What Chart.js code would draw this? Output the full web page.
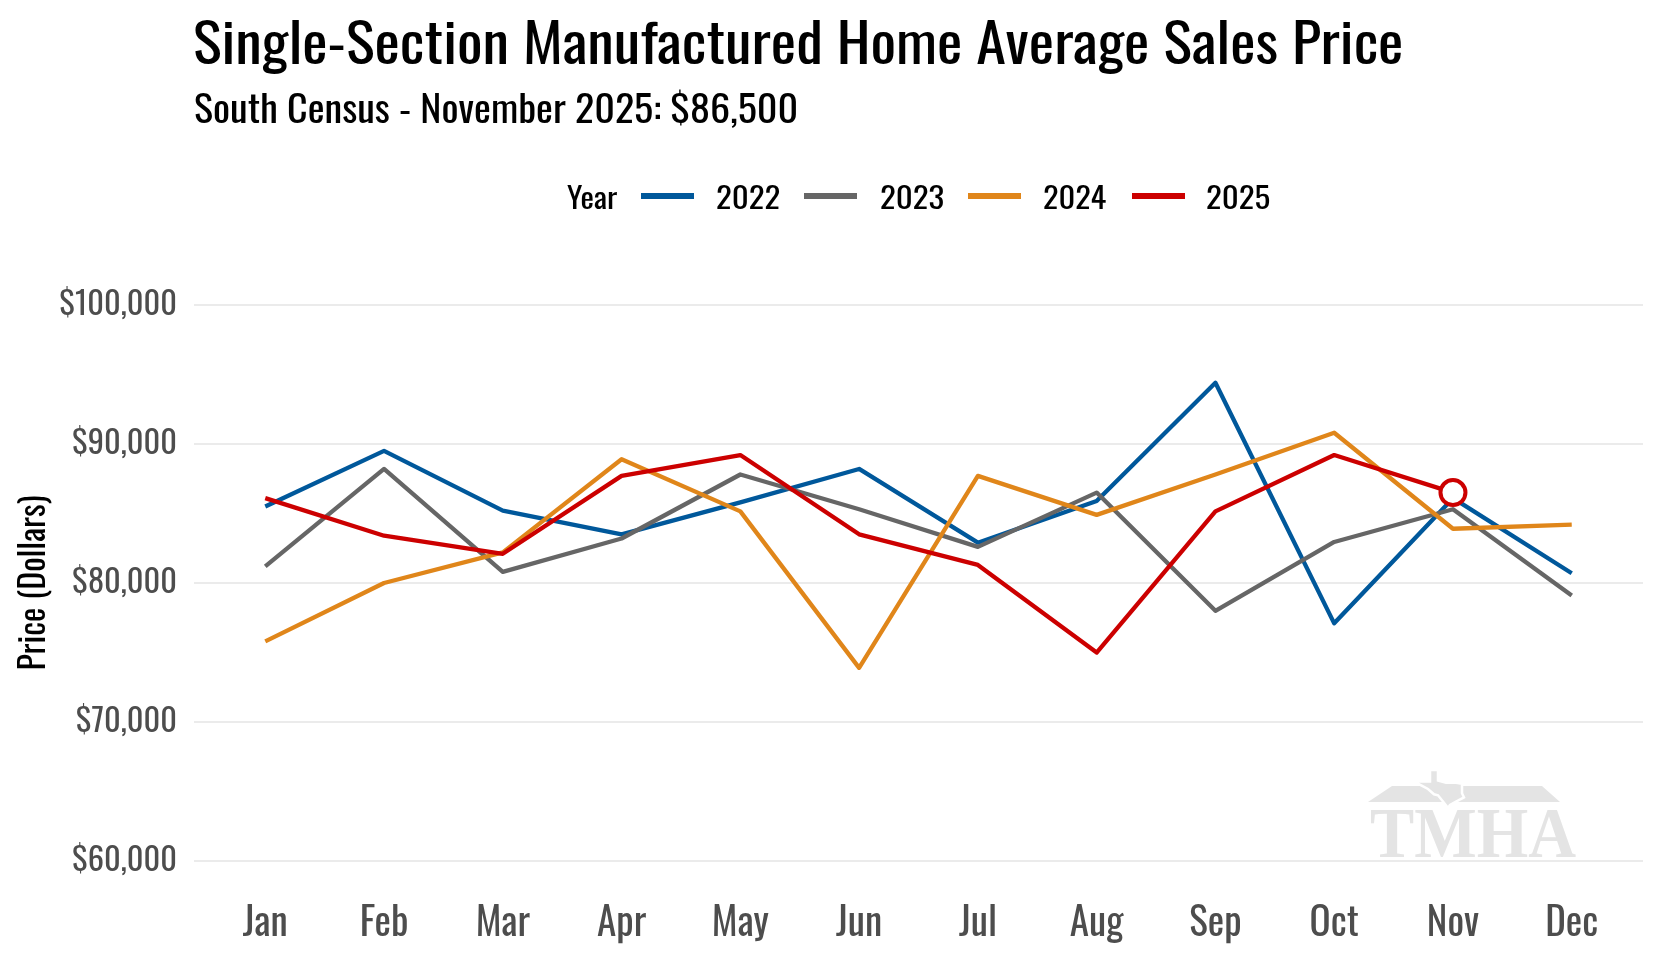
<!DOCTYPE html>
<html><head><meta charset="utf-8">
<script src="https://cdn.jsdelivr.net/npm/chart.js@4.4.1/dist/chart.umd.min.js"></script>
<style>
html,body{margin:0;padding:0;background:#fff;}
#wrap{position:relative;width:1660px;height:960px;overflow:hidden;background:#fff;}
#c{position:absolute;left:0;top:0;}
.t{position:absolute;white-space:nowrap;transform-origin:0 0;margin:0;padding:0;}
.lg{position:absolute;height:6px;}
</style></head>
<body><div id="wrap"><canvas id="c" width="1660" height="960"></canvas>
<div id="title" class="t"></div>
<div id="subtitle" class="t"></div>
<div id="legend"></div>
</div>
<script>
// ---------------- data ----------------
const months = ['Jan','Feb','Mar','Apr','May','Jun','Jul','Aug','Sep','Oct','Nov','Dec'];
const years = ['2022','2023','2024','2025'];
const price2022 = [85500, 89500, 85200, 83500, 85800, 88200, 82900, 85900, 94400, 77100, 86100, 80700];
const price2023 = [81200, 88200, 80800, 83200, 87800, 85300, 82600, 86500, 78000, 82950, 85300, 79100];
const price2024 = [75800, 80000, 82200, 88900, 85150, 73900, 87700, 84900, 87800, 90800, 83900, 84200];
const price2025 = [86100, 83400, 82100, 87700, 89200, 83500, 81300, 75000, 85150, 89200, 86500, null];
const yTickValues = [60000, 70000, 80000, 90000, 100000];
const titleText = 'Single-Section Manufactured Home Average Sales Price';
const subtitleText = 'South Census - November 2025: $86,500';
const legendTitle = 'Year';
const yAxisTitle = 'Price (Dollars)';
const watermarkText = 'TMHA';

const seriesValues = [price2022, price2023, price2024, price2025];
const seriesColors = ['#00589B', '#666666', '#E0861A', '#CC0000'];

// ---------------- fonts ----------------
const mctx = document.createElement('canvas').getContext('2d');
const FAMSTR = '"Oswald", "Roboto Condensed", "DejaVu Sans Condensed", Roboto, sans-serif';
function fstr(size, weight){ return 'normal ' + (weight || 'normal') + ' ' + size + 'px ' + FAMSTR; }
function capPerPx(weight){ mctx.font = fstr(100, weight); mctx.textBaseline = 'alphabetic'; return mctx.measureText('H').actualBoundingBoxAscent / 100; }
function inkPerPx(txt, weight){ mctx.font = fstr(100, weight); const m = mctx.measureText(txt); return (m.actualBoundingBoxLeft + m.actualBoundingBoxRight) / 100; }
function sizeByWidth(txt, width, weight){ return width / inkPerPx(txt, weight); }

// ---------------- HTML text ----------------
function placeText(el, text, left, baseline, cap, width, color, weight){
  el.textContent = text;
  const size = cap / capPerPx(weight);
  mctx.font = fstr(size, weight); mctx.textBaseline = 'alphabetic';
  const m = mctx.measureText(text);
  const A = m.fontBoundingBoxAscent, D = m.fontBoundingBoxDescent;
  const ink = m.actualBoundingBoxLeft + m.actualBoundingBoxRight;
  const sx = width / ink;
  el.style.fontFamily = FAMSTR;
  el.style.fontSize = size + 'px';
  el.style.fontWeight = weight || 'normal';
  el.style.lineHeight = size + 'px';
  el.style.color = color;
  el.style.left = (left + m.actualBoundingBoxLeft * sx) + 'px';
  el.style.top = (baseline - ((size - (A + D)) / 2 + A)) + 'px';
  el.style.transform = 'scaleX(' + sx + ')';
}
placeText(document.getElementById('title'), titleText, 195, 65, 45, 1206, '#000');
placeText(document.getElementById('subtitle'), subtitleText, 195, 124, 30, 601, '#000');

const legendEl = document.getElementById('legend');
function addLegText(txt, left, width){
  const d = document.createElement('div'); d.className = 't'; legendEl.appendChild(d);
  placeText(d, txt, left, 209, 24, width, '#000');
}
addLegText(legendTitle, 567, 51);
const legLineX = [641, 804, 968, 1132];
const legTextX = [717, 881, 1044, 1207];
years.forEach((y, i) => {
  const l = document.createElement('div'); l.className = 'lg';
  l.style.left = legLineX[i] + 'px'; l.style.width = '53px'; l.style.top = '193px';
  l.style.background = seriesColors[i];
  legendEl.appendChild(l);
  addLegText(y, legTextX[i], 62);
});

// ---------------- chart ----------------
const TICKW = 'normal';
const ySize = sizeByWidth('$100,000', 115, TICKW);
const xSize = sizeByWidth('Jan', 43, TICKW);
const tSize = sizeByWidth(yAxisTitle, 172);
function midOffset(size, weight){ mctx.font = fstr(size, weight); mctx.textBaseline = 'middle'; const m = mctx.measureText('H'); return (m.actualBoundingBoxDescent - m.actualBoundingBoxAscent) / 2; }
const CHART_BOTTOM = 889, CHART_TOP = 277, CHART_LEFT = 194, PAD_RIGHT = 17;
const xPad = 919.5 - midOffset(xSize, TICKW) - CHART_BOTTOM - xSize / 2;
const tPad = 31 - midOffset(tSize) - tSize / 2;

const watermark = {
  id: 'watermark',
  beforeDatasetsDraw(chart){
    const {ctx, chartArea: a} = chart;
    const col = '#e4e4e4';
    const L = a.right - 273, R = a.right - 67, base = a.bottom - 32, cap = 47;
    ctx.save();
    ctx.fillStyle = col;
    // roof
    ctx.beginPath();
    ctx.moveTo(L - 2, base - 55); ctx.lineTo(L + 22, base - 71); ctx.lineTo(L + 172, base - 71); ctx.lineTo(L + 190, base - 55);
    ctx.closePath(); ctx.fill();
    // texas
    const tx = L + 46, ty = base - 87, sx = 50 / 50, sy = 38 / 36;
    const tex = [[14,0],[22,0],[22,10],[30,12],[40,12],[46,13],[46,22],[48,26],[40,30],[34,33],[32,36],[28,31],[22,24],[18,23],[12,18],[2,13],[0,11],[14,11]];
    ctx.beginPath();
    tex.forEach((p, i) => { const X = tx + p[0] * sx, Y = ty + p[1] * sy; if (i) ctx.lineTo(X, Y); else ctx.moveTo(X, Y); });
    ctx.closePath();
    ctx.fill();
    ctx.strokeStyle = '#ffffff'; ctx.lineWidth = 2.5; ctx.stroke();
    // letters
    ctx.font = 'bold 100px "Liberation Serif", "DejaVu Serif", serif';
    ctx.textBaseline = 'alphabetic';
    const m = ctx.measureText(watermarkText);
    const capN = ctx.measureText('H').actualBoundingBoxAscent;
    ctx.translate(L, base);
    ctx.scale((R - L) / m.width, cap / capN);
    ctx.fillText(watermarkText, 0, 0);
    ctx.restore();
  }
};

const lastIdx2025 = price2025.reduce((acc, v, i) => v !== null ? i : acc, -1);
const datasets = seriesValues.map((vals, i) => ({
  label: years[i],
  data: vals.map((v, j) => ({x: j, y: v})).filter(p => p.y !== null),
  borderColor: seriesColors[i],
  backgroundColor: seriesColors[i],
  borderWidth: 4.3,
  borderJoinStyle: 'round',
  borderCapStyle: 'butt',
  tension: 0,
  order: seriesValues.length - i,
  pointRadius: (c) => (i === 3 && c.dataIndex === lastIdx2025) ? 12.5 : 0,
  pointBorderWidth: 4,
  pointBorderColor: seriesColors[i],
  pointBackgroundColor: '#ffffff',
  pointHoverRadius: 0
}));

new Chart(document.getElementById('c'), {
  type: 'line',
  data: { datasets },
  plugins: [watermark],
  options: {
    responsive: false,
    animation: false,
    events: [],
    layout: { padding: { top: CHART_TOP, right: PAD_RIGHT, bottom: 0, left: 0 } },
    plugins: { legend: { display: false }, title: { display: false }, tooltip: { enabled: false } },
    scales: {
      x: {
        type: 'linear', min: -0.6, max: 11.6,
        afterBuildTicks: (s) => { s.ticks = months.map((m, i) => ({ value: i })); },
        afterFit: (s) => { s.height = 960 - CHART_BOTTOM; },
        grid: { display: false, drawTicks: false },
        border: { display: false },
        ticks: {
          autoSkip: false, maxRotation: 0, padding: xPad,
          color: '#4d4d4d',
          font: { family: FAMSTR, size: xSize, weight: TICKW, lineHeight: 1 },
          callback: (v) => months[v]
        }
      },
      y: {
        type: 'linear', min: 58000, max: 102000,
        afterBuildTicks: (s) => { s.ticks = yTickValues.map(v => ({ value: v })); },
        afterFit: (s) => { s.width = CHART_LEFT; },
        grid: { color: '#ebebeb', lineWidth: 2, drawTicks: false },
        border: { display: false },
        ticks: {
          padding: 17, color: '#4d4d4d',
          font: { family: FAMSTR, size: ySize, weight: TICKW, lineHeight: 1 },
          callback: (v) => '$' + Number(v).toLocaleString('en-US')
        },
        title: {
          display: true, text: yAxisTitle, color: '#000',
          padding: { top: tPad, bottom: 0 },
          font: { family: FAMSTR, size: tSize, weight: 'normal', lineHeight: 1 }
        }
      }
    }
  }
});
</script>
</body></html>
